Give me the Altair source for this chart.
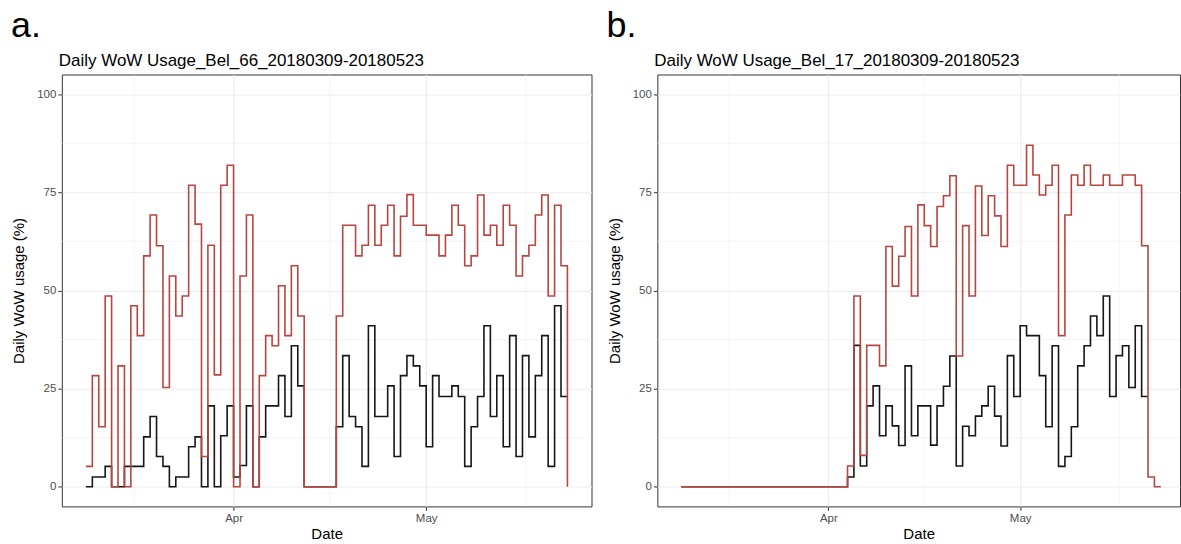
import altair as alt
import pandas as pd

START = "2018-03-09"

# Panel a (Bel_66) daily values, 2018-03-09 .. 2018-05-23
a_red = [5.2, 28.3, 15.3, 48.6, 0, 30.8, 0, 46.1, 38.5, 58.8,
         69.2, 61.4, 25.3, 53.7, 43.5, 48.6, 76.8, 66.9, 7.7, 61.5,
         28.5, 76.8, 81.9, 0, 53.7, 69.2, 0, 28.3, 38.5, 35.9,
         51.2, 38.5, 56.3, 43.5, 0, 0, 0, 0, 0, 43.5,
         66.6, 66.6, 58.8, 61.5, 71.7, 61.5, 66.6, 71.7, 58.8, 68.9,
         74.4, 66.6, 66.6, 64.1, 64.1, 58.8, 64.1, 71.7, 66.6, 56.3,
         58.8, 74.3, 64.1, 66.6, 61.5, 71.7, 66.6, 53.7, 58.8, 61.5,
         69.2, 74.3, 48.6, 71.7, 56.3, 0]
a_black = [0, 2.5, 2.5, 5.2, 0, 0, 5.2, 5.2, 5.2, 12.7,
           17.9, 7.7, 5.2, 0, 2.5, 2.5, 10.2, 12.7, 0, 20.6,
           0, 13.0, 20.6, 2.5, 5.4, 20.6, 0, 12.7, 20.6, 20.6,
           28.3, 17.9, 35.9, 25.7, 0, 0, 0, 0, 0, 15.3,
           33.4, 17.9, 15.3, 5.2, 41.0, 17.9, 17.9, 25.7, 7.7, 28.3,
           33.4, 30.8, 25.7, 10.2, 28.3, 23.0, 23.0, 25.7, 23.0, 5.2,
           15.3, 23.0, 41.0, 17.9, 28.3, 10.2, 38.5, 7.7, 33.4, 12.7,
           28.3, 38.5, 5.2, 46.1, 23.0, 23.0]

# Panel b (Bel_17)
b_red = [0] * 26 + [
    5.3, 48.6, 8.0, 36.0, 36.0, 30.8, 61.2, 51.1, 58.7, 66.3,
    48.6, 71.8, 66.5, 61.2, 71.4, 74.1, 79.2, 33.3, 66.5, 48.6,
    76.6, 64.0, 74.1, 69.0, 61.2, 81.9, 76.8, 76.8, 87.0, 79.4,
    74.3, 76.8, 81.9, 38.5, 69.2, 79.4, 76.8, 81.9, 76.8, 76.8,
    79.4, 76.8, 76.8, 79.4, 79.4, 76.8, 61.4, 2.5, 0, 0]
b_black = [0] * 26 + [
    2.5, 36.0, 5.3, 20.6, 25.7, 13.0, 20.6, 15.5, 10.5, 30.8,
    13.0, 20.6, 20.6, 10.6, 20.6, 25.6, 33.3, 5.3, 15.4, 13.0,
    18.0, 20.6, 25.6, 18.0, 10.4, 33.4, 23.0, 41.0, 38.5, 38.5,
    28.3, 15.3, 35.9, 5.2, 7.7, 15.3, 30.8, 35.9, 43.5, 38.5,
    48.6, 23.0, 33.4, 35.9, 25.3, 41.0, 23.0, 23.0]

titles = ["Daily WoW Usage_Bel_66_20180309-20180523",
          "Daily WoW Usage_Bel_17_20180309-20180523"]
letters = ["a.", "b."]
y_ticks = [0, 25, 50, 75, 100]
y_minor = [12.5, 37.5, 62.5, 87.5]
x_minor = ["2018-03-16T12:00:00", "2018-04-16T00:00:00", "2018-05-16T12:00:00"]

RED = "#B8453F"
BLACK = "#161616"
FONT = "Liberation Sans"


def series_df(vals):
    d = pd.date_range(START, periods=len(vals), freq="D")
    return pd.DataFrame({"date": d.strftime("%Y-%m-%dT%H:%M:%S"), "value": vals})


def panel(red, black, title, letter, width, x_end):
    xscale = alt.Scale(domain=[alt.DateTime(year=2018, month=3, date=5, hours=6),
                               x_end])
    yscale = alt.Scale(domain=[-5, 105], nice=False, zero=False)
    x_enc = alt.X("date:T", scale=xscale,
                  axis=alt.Axis(values=[alt.DateTime(year=2018, month=4, date=1),
                                        alt.DateTime(year=2018, month=5, date=1)],
                                format="%b", title="Date", labelPadding=2,
                                titlePadding=3))
    y_enc = alt.Y("value:Q", scale=yscale,
                  axis=alt.Axis(values=y_ticks, title="Daily WoW usage (%)",
                                labelPadding=2, titlePadding=10))

    xr = alt.Chart(pd.DataFrame({"date": x_minor})).mark_rule(
        color="#EFEFEF", strokeWidth=0.6).encode(x=x_enc)
    yr = alt.Chart(pd.DataFrame({"value": y_minor})).mark_rule(
        color="#EFEFEF", strokeWidth=0.6).encode(y=y_enc)
    bl = alt.Chart(series_df(black)).mark_line(
        interpolate="step-after", color=BLACK, strokeWidth=1.6).encode(x=x_enc, y=y_enc)
    rd = alt.Chart(series_df(red)).mark_line(
        interpolate="step-after", color=RED, strokeWidth=1.6).encode(x=x_enc, y=y_enc)
    lt = alt.Chart(pd.DataFrame({"t": [letter]})).mark_text(
        align="left", baseline="alphabetic", fontSize=36, font=FONT, color="black"
    ).encode(x=alt.value(-51), y=alt.value(-38), text="t:N")
    tt = alt.Chart(pd.DataFrame({"t": [title]})).mark_text(
        align="left", baseline="alphabetic", fontSize=17, font=FONT, color="black"
    ).encode(x=alt.value(-3), y=alt.value(-9), text="t:N")
    return alt.layer(xr, yr, bl, rd, lt, tt).properties(width=width, height=433)


pa = panel(a_red, a_black, titles[0], letters[0], 531,
           alt.DateTime(year=2018, month=5, date=26, hours=18))
pb = panel(b_red, b_black, titles[1], letters[1], 524,
           alt.DateTime(year=2018, month=5, date=26, hours=0))

chart = alt.hconcat(pa, pb, spacing=13).resolve_scale(x="independent", y="independent").properties(
    padding={"left": 10, "top": 6, "right": 0, "bottom": 0},
    background="white",
).configure_view(stroke="#333333", strokeWidth=1).configure_axis(
    domain=False, ticks=True, tickColor="#333333", tickSize=4, tickWidth=1,
    labelColor="#4D4D4D", labelFontSize=11.5, labelFont=FONT,
    titleFont=FONT, titleFontSize=15, titleFontWeight="normal", titleColor="black",
    gridColor="#EBEBEB", gridWidth=1.1,
)

chart.save("out.html", embed_options={"renderer": "svg", "actions": False})
